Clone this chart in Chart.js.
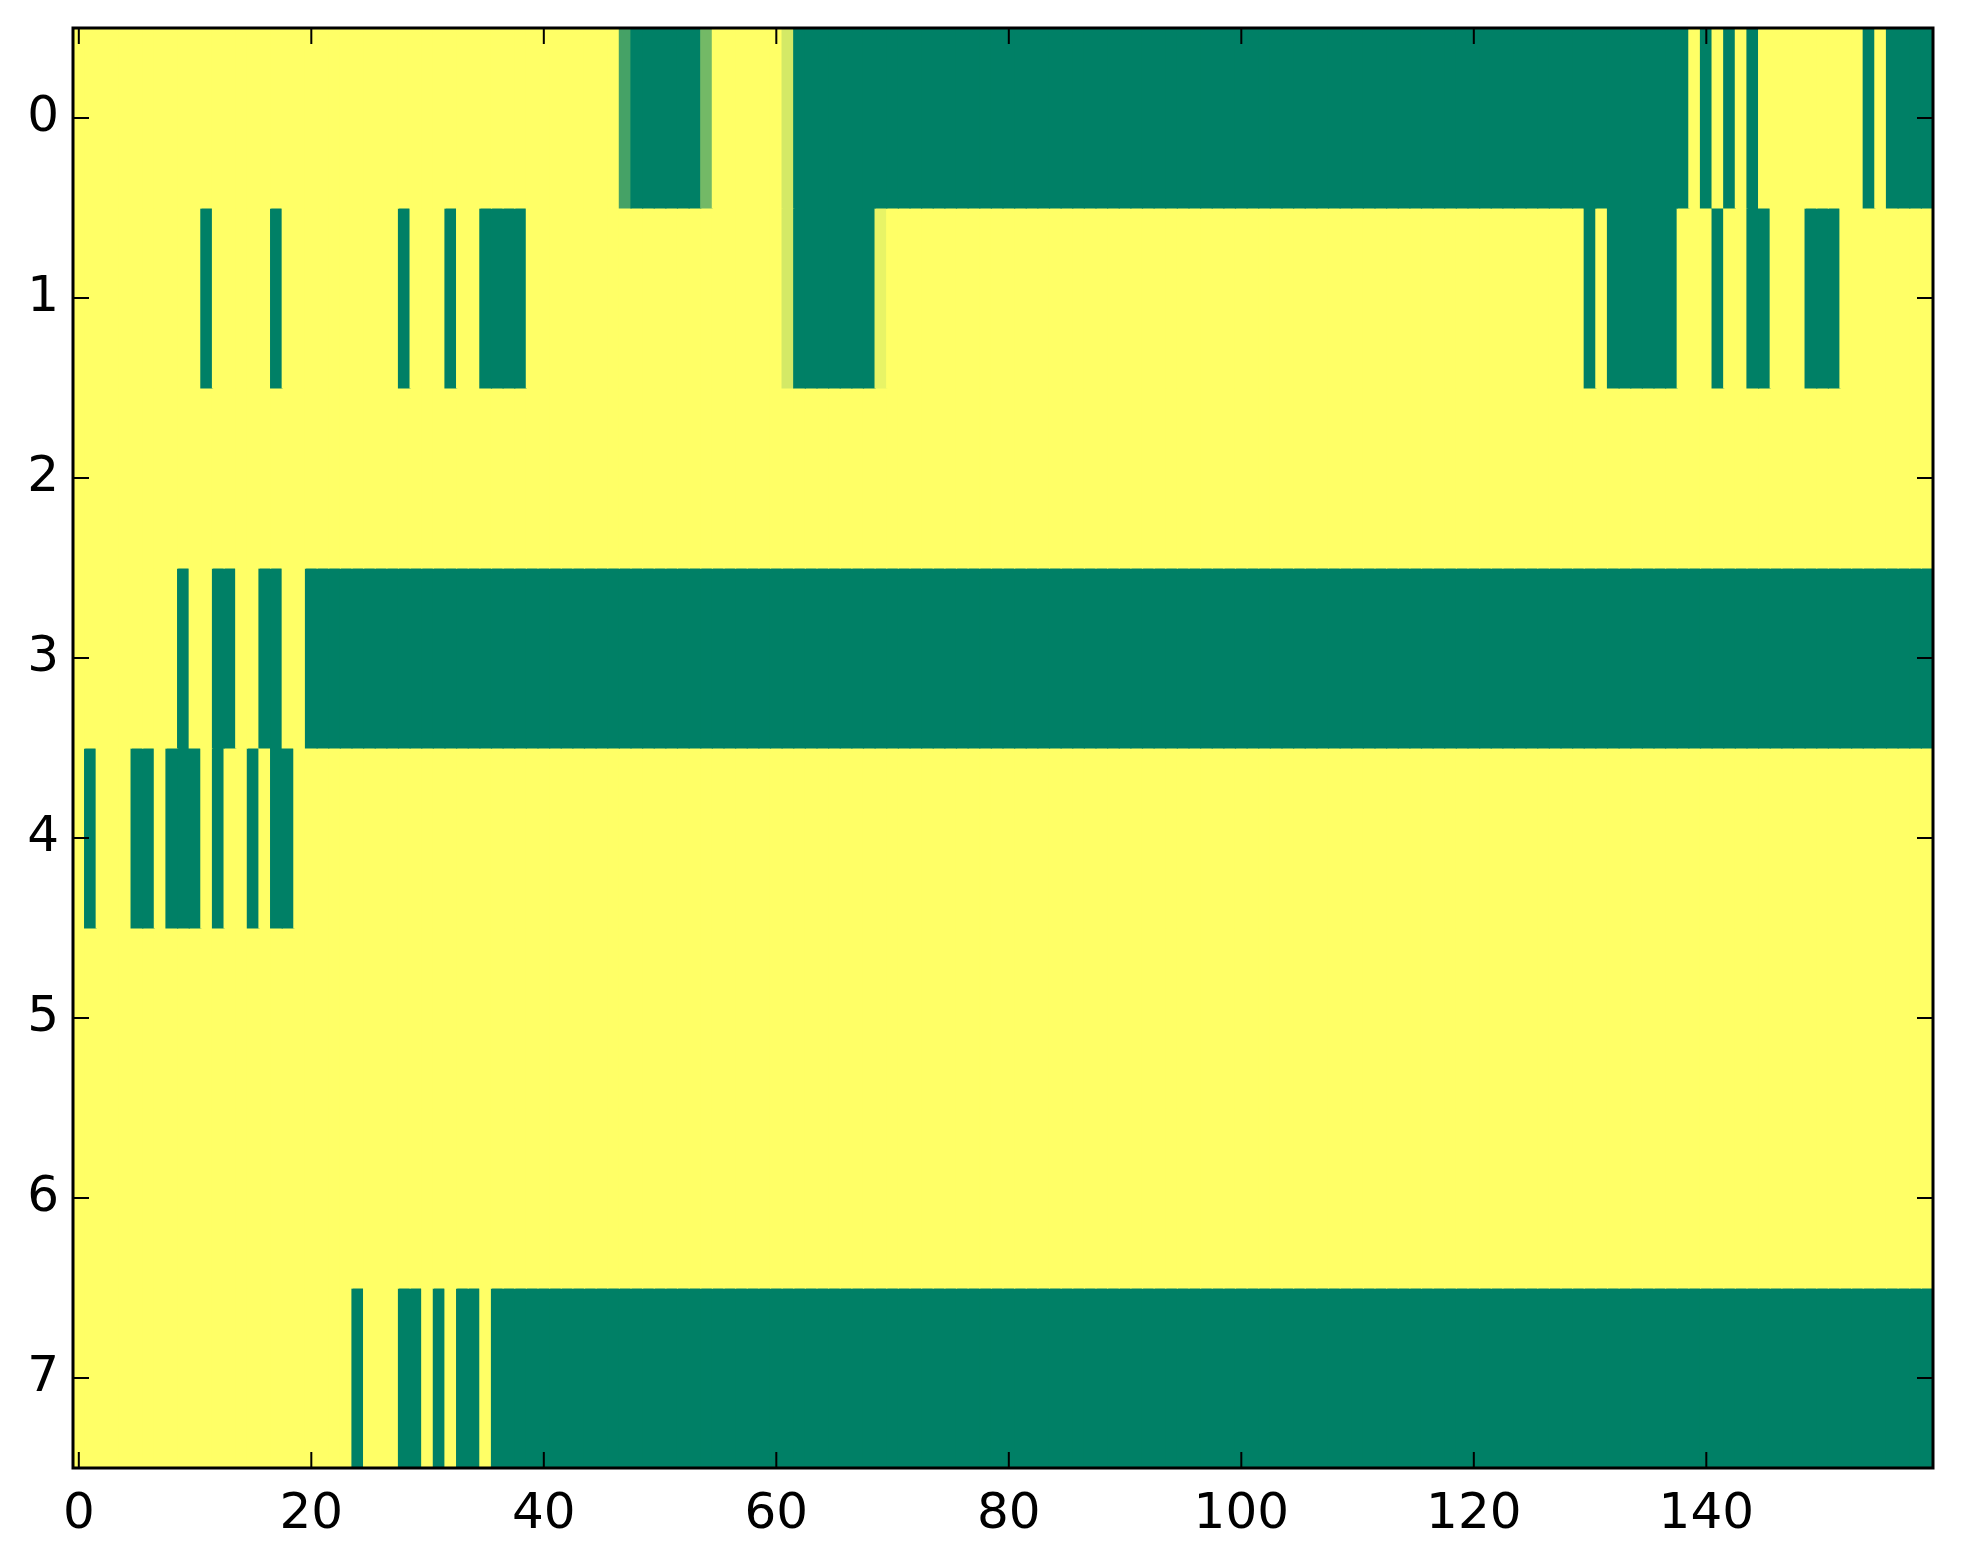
<!DOCTYPE html>
<html>
<head>
<meta charset="utf-8">
<script src="https://cdn.jsdelivr.net/npm/chart.js@4.4.1/dist/chart.umd.min.js"></script>
<style>
  html, body { margin: 0; padding: 0; background: #fff; }
  canvas { display: block; }
</style>
</head>
<body>
<canvas id="grid" width="1963" height="1564"></canvas>
<script>
// cell values, one array per image row (160 columns each)
const row0 = [
  1,1,1,1,1,1,1,1,1,1, 1,1,1,1,1,1,1,1,1,1, 1,1,1,1,1,1,1,1,1,1, 1,1,1,1,1,1,1,1,1,1,
  1,1,1,1,1,1,1,0.27,0,0, 0,0,0,0,0.45,1,1,1,1,1, 1,0.83,0,0,0,0,0,0,0,0, 0,0,0,0,0,0,0,0,0,0,
  0,0,0,0,0,0,0,0,0,0, 0,0,0,0,0,0,0,0,0,0, 0,0,0,0,0,0,0,0,0,0, 0,0,0,0,0,0,0,0,0,0,
  0,0,0,0,0,0,0,0,0,0, 0,0,0,0,0,0,0,0,0,1, 0,1,0,1,0,1,1,1,1,1, 1,1,1,1,0,1,0,0,0,0
];
const row1 = [
  1,1,1,1,1,1,1,1,1,1, 1,0,1,1,1,1,1,0,1,1, 1,1,1,1,1,1,1,1,0,1, 1,1,0,1,1,0,0,0,0,1,
  1,1,1,1,1,1,1,1,1,1, 1,1,1,1,1,1,1,1,1,1, 1,0.83,0,0,0,0,0,0,0,0.91, 1,1,1,1,1,1,1,1,1,1,
  1,1,1,1,1,1,1,1,1,1, 1,1,1,1,1,1,1,1,1,1, 1,1,1,1,1,1,1,1,1,1, 1,1,1,1,1,1,1,1,1,1,
  1,1,1,1,1,1,1,1,1,1, 0,1,0,0,0,0,0,0,1,1, 1,0,1,1,0,0,1,1,1,0, 0,0,1,1,1,1,1,1,1,1
];
const row2 = [
  1,1,1,1,1,1,1,1,1,1, 1,1,1,1,1,1,1,1,1,1, 1,1,1,1,1,1,1,1,1,1, 1,1,1,1,1,1,1,1,1,1,
  1,1,1,1,1,1,1,1,1,1, 1,1,1,1,1,1,1,1,1,1, 1,1,1,1,1,1,1,1,1,1, 1,1,1,1,1,1,1,1,1,1,
  1,1,1,1,1,1,1,1,1,1, 1,1,1,1,1,1,1,1,1,1, 1,1,1,1,1,1,1,1,1,1, 1,1,1,1,1,1,1,1,1,1,
  1,1,1,1,1,1,1,1,1,1, 1,1,1,1,1,1,1,1,1,1, 1,1,1,1,1,1,1,1,1,1, 1,1,1,1,1,1,1,1,1,1
];
const row3 = [
  1,1,1,1,1,1,1,1,1,0, 1,1,0,0,1,1,0,0,1,1, 0,0,0,0,0,0,0,0,0,0, 0,0,0,0,0,0,0,0,0,0,
  0,0,0,0,0,0,0,0,0,0, 0,0,0,0,0,0,0,0,0,0, 0,0,0,0,0,0,0,0,0,0, 0,0,0,0,0,0,0,0,0,0,
  0,0,0,0,0,0,0,0,0,0, 0,0,0,0,0,0,0,0,0,0, 0,0,0,0,0,0,0,0,0,0, 0,0,0,0,0,0,0,0,0,0,
  0,0,0,0,0,0,0,0,0,0, 0,0,0,0,0,0,0,0,0,0, 0,0,0,0,0,0,0,0,0,0, 0,0,0,0,0,0,0,0,0,0
];
const row4 = [
  1,0,1,1,1,0,0,1,0,0, 0,1,0,1,1,0,1,0,0,1, 1,1,1,1,1,1,1,1,1,1, 1,1,1,1,1,1,1,1,1,1,
  1,1,1,1,1,1,1,1,1,1, 1,1,1,1,1,1,1,1,1,1, 1,1,1,1,1,1,1,1,1,1, 1,1,1,1,1,1,1,1,1,1,
  1,1,1,1,1,1,1,1,1,1, 1,1,1,1,1,1,1,1,1,1, 1,1,1,1,1,1,1,1,1,1, 1,1,1,1,1,1,1,1,1,1,
  1,1,1,1,1,1,1,1,1,1, 1,1,1,1,1,1,1,1,1,1, 1,1,1,1,1,1,1,1,1,1, 1,1,1,1,1,1,1,1,1,1
];
const row5 = [
  1,1,1,1,1,1,1,1,1,1, 1,1,1,1,1,1,1,1,1,1, 1,1,1,1,1,1,1,1,1,1, 1,1,1,1,1,1,1,1,1,1,
  1,1,1,1,1,1,1,1,1,1, 1,1,1,1,1,1,1,1,1,1, 1,1,1,1,1,1,1,1,1,1, 1,1,1,1,1,1,1,1,1,1,
  1,1,1,1,1,1,1,1,1,1, 1,1,1,1,1,1,1,1,1,1, 1,1,1,1,1,1,1,1,1,1, 1,1,1,1,1,1,1,1,1,1,
  1,1,1,1,1,1,1,1,1,1, 1,1,1,1,1,1,1,1,1,1, 1,1,1,1,1,1,1,1,1,1, 1,1,1,1,1,1,1,1,1,1
];
const row6 = [
  1,1,1,1,1,1,1,1,1,1, 1,1,1,1,1,1,1,1,1,1, 1,1,1,1,1,1,1,1,1,1, 1,1,1,1,1,1,1,1,1,1,
  1,1,1,1,1,1,1,1,1,1, 1,1,1,1,1,1,1,1,1,1, 1,1,1,1,1,1,1,1,1,1, 1,1,1,1,1,1,1,1,1,1,
  1,1,1,1,1,1,1,1,1,1, 1,1,1,1,1,1,1,1,1,1, 1,1,1,1,1,1,1,1,1,1, 1,1,1,1,1,1,1,1,1,1,
  1,1,1,1,1,1,1,1,1,1, 1,1,1,1,1,1,1,1,1,1, 1,1,1,1,1,1,1,1,1,1, 1,1,1,1,1,1,1,1,1,1
];
const row7 = [
  1,1,1,1,1,1,1,1,1,1, 1,1,1,1,1,1,1,1,1,1, 1,1,1,1,0,1,1,1,0,0, 1,0,1,0,0,1,0,0,0,0,
  0,0,0,0,0,0,0,0,0,0, 0,0,0,0,0,0,0,0,0,0, 0,0,0,0,0,0,0,0,0,0, 0,0,0,0,0,0,0,0,0,0,
  0,0,0,0,0,0,0,0,0,0, 0,0,0,0,0,0,0,0,0,0, 0,0,0,0,0,0,0,0,0,0, 0,0,0,0,0,0,0,0,0,0,
  0,0,0,0,0,0,0,0,0,0, 0,0,0,0,0,0,0,0,0,0, 0,0,0,0,0,0,0,0,0,0, 0,0,0,0,0,0,0,0,0,0
];
const rows = [row0, row1, row2, row3, row4, row5, row6, row7];

const xTicks = [0, 20, 40, 60, 80, 100, 120, 140];
const yTicks = [0, 1, 2, 3, 4, 5, 6, 7];

// matplotlib "summer" colormap
function summer(v) {
  const r = Math.round(255 * v);
  const g = Math.round(255 * (0.5 + 0.5 * v));
  return 'rgb(' + r + ',' + g + ',102)';
}

const datasets = rows.map(function(vals, r) {
  return {
    data: vals.map(function(v, c) { return { x: c, y: [r - 0.5, r + 0.5] }; }),
    backgroundColor: vals.map(summer),
    borderWidth: 0,
    inflateAmount: 0.6,
    grouped: false,
    barPercentage: 1,
    categoryPercentage: 1
  };
});

// axes frame + inward ticks on all four sides
const frame = {
  id: 'frame',
  afterDraw(chart) {
    const ctx = chart.ctx, a = chart.chartArea;
    const xs = chart.scales.x, ys = chart.scales.y;
    const len = 16;
    ctx.save();
    ctx.strokeStyle = '#000';
    ctx.lineWidth = 2;
    ctx.beginPath();
    xTicks.forEach(function(t) {
      const px = xs.getPixelForValue(t);
      ctx.moveTo(px, a.bottom); ctx.lineTo(px, a.bottom - len);
      ctx.moveTo(px, a.top); ctx.lineTo(px, a.top + len);
    });
    yTicks.forEach(function(t) {
      const py = ys.getPixelForValue(t);
      ctx.moveTo(a.left, py); ctx.lineTo(a.left + len, py);
      ctx.moveTo(a.right, py); ctx.lineTo(a.right - len, py);
    });
    ctx.stroke();
    ctx.lineWidth = 3;
    ctx.strokeRect(a.left, a.top, a.right - a.left, a.bottom - a.top);
    ctx.restore();
  }
};

const tickFont = { family: 'DejaVu Sans', size: 50 };

new Chart(document.getElementById('grid').getContext('2d'), {
  type: 'bar',
  data: { datasets: datasets },
  options: {
    responsive: false,
    animation: false,
    devicePixelRatio: 1,
    layout: { padding: { top: 28, right: 30, left: 0, bottom: 0 } },
    plugins: { legend: { display: false }, tooltip: { enabled: false } },
    scales: {
      x: {
        type: 'linear',
        offset: false,
        min: -0.5,
        max: 159.5,
        afterBuildTicks: function(s) { s.ticks = xTicks.map(function(v) { return { value: v }; }); },
        afterFit: function(s) { s.height = 96; s.paddingLeft = 0; s.paddingRight = 0; },
        grid: { display: false, drawTicks: false },
        border: { display: false },
        ticks: { font: tickFont, color: '#000', padding: 17, autoSkip: false, maxRotation: 0 }
      },
      y: {
        type: 'linear',
        reverse: true,
        min: -0.5,
        max: 7.5,
        afterBuildTicks: function(s) { s.ticks = yTicks.map(function(v) { return { value: v }; }); },
        afterFit: function(s) { s.width = 73; s.paddingTop = 0; s.paddingBottom = 0; },
        grid: { display: false, drawTicks: false },
        border: { display: false },
        ticks: { font: tickFont, color: '#000', padding: 14, autoSkip: false }
      }
    }
  },
  plugins: [frame]
});
</script>
</body>
</html>
